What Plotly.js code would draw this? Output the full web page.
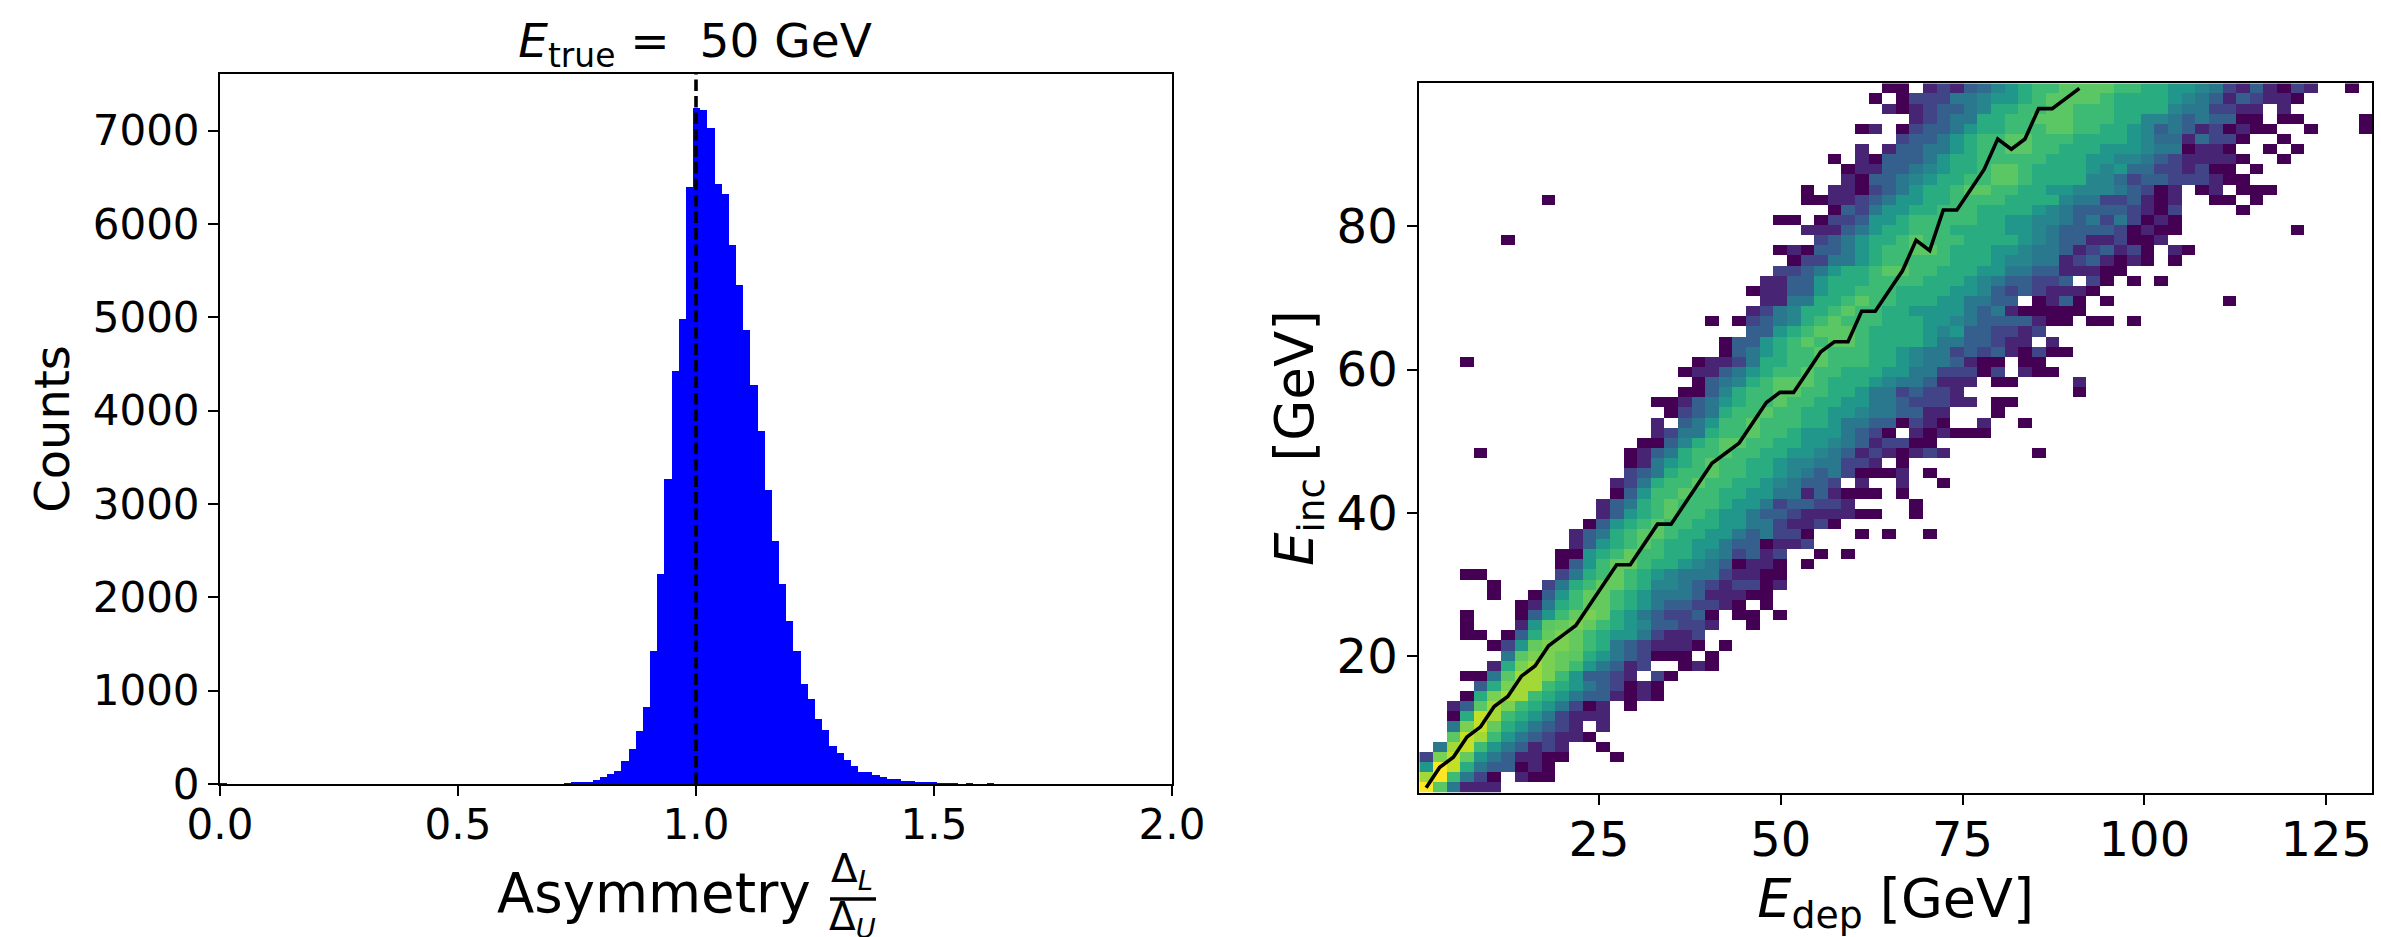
<!DOCTYPE html>
<html>
<head>
<meta charset="utf-8">
<script src="https://cdn.plot.ly/plotly-3.0.1.min.js"></script>
<style>html,body{margin:0;padding:0;background:#fff}#chart{width:2381px;height:937px}</style>
</head>
<body>
<div id="chart"></div>
<script>
// ---- left panel: histogram of asymmetry ----
const asymBinWidth = 0.01506;
const asymBinIndex = [0,47,48,49,50,51,52,53,54,55,56,57,58,59,60,61,62,63,64,65,66,67,68,69,70,71,72,73,74,75,76,77,78,79,80,81,82,83,84,85,86,87,88,89,90,91,92,93,94,95,96,97,98,99,100,101,102,103,104,107];
const asymCounts = [15,5,10,21,21,21,42,78,109,140,250,374,567,827,1425,2252,3271,4430,4987,6396,7244,7223,7025,6427,6318,5772,5346,4862,4280,3786,3146,2605,2148,1747,1425,1071,910,697,577,406,333,260,192,130,130,99,78,52,52,31,31,21,21,21,10,10,10,5,10,8];
const asymXTicks = [0,0.5,1,1.5,2];
const asymYTicks = [0,1000,2000,3000,4000,5000,6000,7000];
const asymRangeY = [0,7607];
const asymRangeX = [0,2];
const trueLineX = [1,1];

// ---- right panel: 70 x 70 2D histogram, colour level per cell ----
// one entry per row (bottom to top): "startColumn:cells", '.' = empty bin
const colourLevels = {'0':0,'1':1,'2':2,'3':3,'d':3.5,'4':4,'e':4.5,'5':5.2,'6':6.2,'g':6.8,'7':7.4,'h':7.6,'8':8,'j':8.6,'9':9.1,'a':10};
const cellRows = [
"0:a74111",
"0:jag420.100",
"0:5a96433010",
"0:289h5431100...0",
"1:4j9g543121..0",
"2:79jg5432110",
"2:489h654321.1",
"2:069jg6542111",
"2:137j8g654201.0",
"3:068jjg654331010",
"4:368jjg65432010",
"3:0047jj8g53321.20",
"5:168j8hg54312..010",
"6:4788h765432000.0",
"5:025h88hg64321110.0",
"3:00.036h8hg65542112",
"3:0...157h8hg65e33221..0",
"3:0...035gh8h65432230.00.0",
"7:0146ghhg654332210.0",
"5:0..035ghhg65444311100",
"5:0...246ghhg6ee43212201",
"3:00.....246ghg65e44421100",
"10:035ghhg665e430110.0",
"10:0056ghgg665e42312..0.0",
"11:1356g7g66554330112",
"11:1346g77g6655434220...0.0..0",
"12:0356g7gg66554421120",
"13:1356g7gg6554332111100..0",
"13:1346g7ggg6554233221....0",
"14:035gg7gg665544131000.0",
"14:1246gg7gg665e4332.1..1..0",
"15:2346gg7gg665e43420001.0",
"15:01456g7gg665ee44221.0",
"4:0 15:01346gg7gg6655e431210121......0",
"16:003e6g77gg6655e4312200",
"17:12446gg7gg65554320.101000",
"17:1.345gg7ggg66544330210..1..0",
"18:02346gg7gg6655e443311...0",
"17:0013456gg7gg665544322211.00",
"19:003e6gg77gg6654423221........0",
"20:034e6g777g6665e443111.00....1",
"19:0113456gg7gg666554422202.100",
"3:0 20:0112466gg7ggg665e443100.00",
"22:03456gg7ggg665e44232310200",
"22:03356g7g77g666654433211.1",
"24:3356g777g66665e5332212",
"21:0.0234e6g7ggg66655e43333100.00.0",
"24:124e66g7gg665555434100000",
"25:114466g7gg666554433.0130.0........0",
"24:01133566ggg666655e32321110",
"25:11335666gggg6665e433223.20.0.0",
"26:2234566g77gg66655443311100",
"27:0224456ggggg6665ee441231010.0",
"26:01033456gg77g66655e443123120.10",
"6:0 29:234566g7ggg66665e433112001",
"28:11134566ggg666655e4333320100........0",
"26:00.0223556ggggg6655ee434242010",
"30:03245566ggg66665e433332102....0",
"9:0 28:00112345566gggg6666e44223101..00.0",
"28:0.110234566g77gg6655eee43201.01.000",
"31:10334e566gg77g6666eed233222100",
"31:011334e566g77g66665e5dd221200.0",
"30:0.103334566ggggg66655ee43211110..0",
"32:1.1334456gg77gg666555e440110..0.0",
"35:233456gg77ggg66665edd1d220..0",
"32:01.02334566ggg77gg665e343120100..0...0",
"36:1234466gg777ggg66ee4343300.00....0",
"34:1012334e66gg77ggg6666e442211.1",
"33:0.022244e556g7777g66665e43132110",
"34:00.1213de56gg7777gg6655e42131021..0"
];
const viridisStops = ['#440154','#482475','#414487','#355f8d','#2a788e','#21918c','#22a884','#44bf70','#7ad151','#bddf26','#fde725'];
const binsX = 70, binsY = 70;
const edepRange = [0.29, 131.3];
const eincRange = [0.97, 99.95];
const edepTicks = [25,50,75,100,125];
const eincTicks = [20,40,60,80];
// line: for each E_dep column, the E_inc row it passes through
const lineRows = [0,2,3,5,6,8,9,11,12,14,15,16,18,20,22,22,24,26,26,28,30,32,33,34,36,38,39,39,41,43,44,44,47,47,49,51,54,53,57,57,59,61,64,63,64,67,67,68,69];

// ---- build traces ----
const W = 2381, H = 937;
const px = v => v / W, py = v => 1 - v / H;
const dx = (edepRange[1] - edepRange[0]) / binsX;
const dy = (eincRange[1] - eincRange[0]) / binsY;
const xCentres = Array.from({length: binsX}, (_, i) => edepRange[0] + dx * (i + 0.5));
const yCentres = Array.from({length: binsY}, (_, i) => eincRange[0] + dy * (i + 0.5));
const z = yCentres.map(() => xCentres.map(() => null));
cellRows.forEach((row, r) => {
  row.split(' ').forEach(seg => {
    const [start, cells] = seg.split(':');
    [...cells].forEach((ch, i) => {
      if (ch !== '.') z[r][Number(start) + i] = colourLevels[ch];
    });
  });
});

const font = 'DejaVu Sans, sans-serif';
const data = [
  {type: 'bar', x: asymBinIndex.map(i => i * asymBinWidth), y: asymCounts, width: asymBinWidth, offset: 0,
   marker: {color: '#0000ff', line: {width: 0}}, xaxis: 'x', yaxis: 'y', showlegend: false, hoverinfo: 'skip'},
  {type: 'scatter', mode: 'lines', x: trueLineX, y: asymRangeY, line: {color: '#000', width: 3.6, dash: '11.5px,5px'},
   xaxis: 'x', yaxis: 'y', showlegend: false, hoverinfo: 'skip'},
  {type: 'heatmap', x: xCentres, y: yCentres, z: z, zmin: 0, zmax: 10, showscale: false, zsmooth: false, hoverongaps: false,
   colorscale: viridisStops.map((c, i) => [i / (viridisStops.length - 1), c]), xaxis: 'x2', yaxis: 'y2'},
  {type: 'scatter', mode: 'lines', x: lineRows.map((r, c) => xCentres[c]), y: lineRows.map(r => yCentres[r]),
   line: {color: '#000', width: 3.6}, xaxis: 'x2', yaxis: 'y2', showlegend: false, hoverinfo: 'skip'}
];

const axisCommon = {showgrid: false, zeroline: false, showline: true, mirror: true, linecolor: '#000', linewidth: 2,
  ticks: 'outside', ticklen: 10, tickwidth: 2, tickcolor: '#000', automargin: false};

const layout = {
  width: W, height: H, margin: {l: 0, r: 0, t: 0, b: 0}, paper_bgcolor: '#fff', plot_bgcolor: '#fff',
  showlegend: false, bargap: 0, font: {family: font, color: '#000'},
  title: {text: '<i>E</i><sub>true</sub> =\u00a0\u00a050 GeV', font: {size: 47, family: font, color: '#000'},
          x: 695 / W, xanchor: 'center', xref: 'paper', y: py(41), yanchor: 'middle', yref: 'paper'},
  xaxis: Object.assign({}, axisCommon, {domain: [px(220), px(1172)], range: asymRangeX, anchor: 'y',
    tickvals: asymXTicks, tickformat: '.1f', tickfont: {size: 42, family: font}, ticklabelstandoff: -7}),
  yaxis: Object.assign({}, axisCommon, {domain: [py(784), py(74)], range: asymRangeY, anchor: 'x',
    tickvals: asymYTicks, tickfont: {size: 42, family: font},
    title: {text: 'Counts', font: {size: 48, family: font}, standoff: 8}}),
  xaxis2: Object.assign({}, axisCommon, {domain: [px(1419.3), px(2372)], range: edepRange, anchor: 'y2',
    tickvals: edepTicks, tickfont: {size: 48, family: font}, ticklabelstandoff: -6,
    title: {text: '<i>E</i><sub>dep</sub> [GeV]', font: {size: 54, family: font}, standoff: 6}}),
  yaxis2: Object.assign({}, axisCommon, {domain: [py(792.7), py(83.3)], range: eincRange, anchor: 'x2',
    tickvals: eincTicks, tickfont: {size: 48, family: font},
    title: {text: '<i>E</i><sub>inc</sub> [GeV]', font: {size: 53, family: font}, standoff: 6}}),
  annotations: [
    {xref: 'paper', yref: 'paper', x: px(654), y: py(893), text: 'Asymmetry', showarrow: false,
     font: {size: 54.5, family: font}, xanchor: 'center', yanchor: 'middle'},
    {xref: 'paper', yref: 'paper', x: px(852), y: py(871), text: '\u0394<sub><i>L</i></sub>', showarrow: false,
     font: {size: 39, family: font}, xanchor: 'center', yanchor: 'middle'},
    {xref: 'paper', yref: 'paper', x: px(852), y: py(919), text: '\u0394<sub><i>U</i></sub>', showarrow: false,
     font: {size: 39, family: font}, xanchor: 'center', yanchor: 'middle'}
  ],
  shapes: [
    {type: 'line', xref: 'paper', yref: 'paper', x0: px(830), x1: px(876), y0: py(899), y1: py(899), line: {color: '#000', width: 3.5}}
  ]
};

Plotly.newPlot('chart', data, layout, {staticPlot: true, displayModeBar: false});
</script>
</body>
</html>
